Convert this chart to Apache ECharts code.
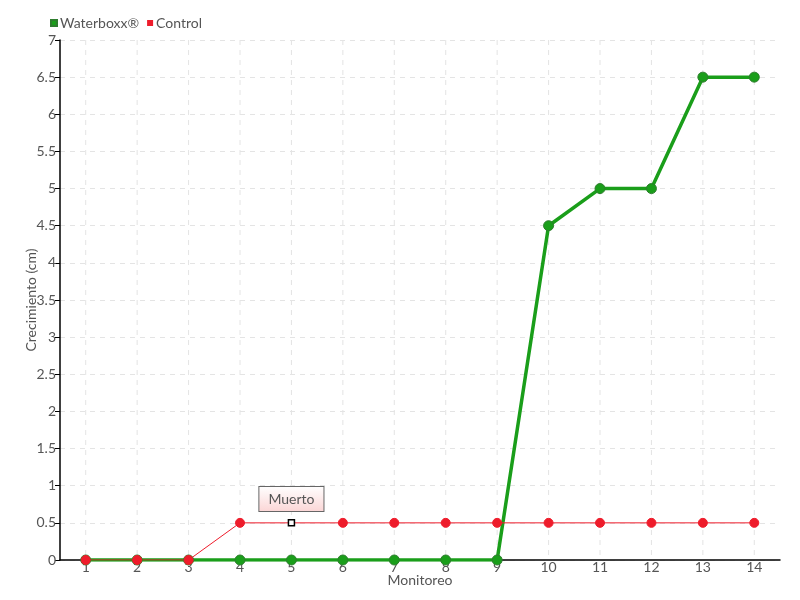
<!DOCTYPE html>
<html><head><meta charset="utf-8">
<script src="https://cdn.jsdelivr.net/npm/echarts@6/dist/echarts.min.js"></script>
<style>html,body{margin:0;padding:0;background:#fff}#c{width:800px;height:600px}</style>
</head><body><div id="c"></div>
<script>
const categories = ['1','2','3','4','5','6','7','8','9','10','11','12','13','14'];
const waterboxx = [0,0,0,0,0,0,0,0,0,4.5,5,5,6.5,6.5];
const control = [0,0,0,0.5,0.5,0.5,0.5,0.5,0.5,0.5,0.5,0.5,0.5,0.5];
const yTicks = [0,0.5,1,1.5,2,2.5,3,3.5,4,4.5,5,5.5,6,6.5,7];
const noteIndex = 4;
const noteText = 'Muerto';

const font = 'Lato, sans-serif';
const txt = '#555';
const chart = echarts.init(document.getElementById('c'));
chart.setOption({
  animation: false,
  textStyle: {fontFamily: font},
  legend: {
    left: 45, top: 11, itemWidth: 6, itemHeight: 6, itemGap: 8,
    icon: 'rect',
    textStyle: {fontFamily: font, fontSize: 14, color: txt, padding: [0,0,0,-2]},
    data: ['Waterboxx®', 'Control']
  },
  grid: {left: 60, right: 20, top: 40, bottom: 40},
  xAxis: {
    type: 'category', data: categories, boundaryGap: true,
    name: 'Monitoreo', nameLocation: 'middle', nameGap: 13, nameMoveOverlap: false,
    nameTextStyle: {fontFamily: font, fontSize: 14, color: txt},
    axisLine: {lineStyle: {color: '#000', width: 1.5}},
    axisTick: {alignWithLabel: true, inside: true, length: 4, lineStyle: {color: '#000'}},
    axisLabel: {fontFamily: font, fontSize: 14, color: txt, margin: 0},
    splitLine: {show: false}
  },
  yAxis: {
    type: 'value', min: 0, max: 7, interval: 0.5,
    name: 'Crecimiento (cm)', nameLocation: 'middle', nameGap: 22, nameMoveOverlap: false,
    nameTextStyle: {fontFamily: font, fontSize: 14, color: txt},
    axisLine: {show: true, lineStyle: {color: '#000', width: 1.5}},
    axisTick: {show: true, length: 5, lineStyle: {color: '#000'}},
    axisLabel: {fontFamily: font, fontSize: 14, color: txt, margin: 4,
      formatter: v => yTicks.indexOf(v) >= 0 ? String(v) : ''},
    splitLine: {show: true, lineStyle: {color: '#e4e4e4', type: [5,5]}}
  },
  series: [
    {
      name: 'Waterboxx®', type: 'line', data: waterboxx,
      color: '#1a9e1a',
      lineStyle: {width: 3.5, color: '#1a9e1a'},
      symbol: 'circle', symbolSize: 10,
      itemStyle: {color: '#1a9e1a', borderColor: '#2e7d2e', borderWidth: 1}
    },
    {
      name: 'Control', type: 'line',
      color: '#ee1c2b',
      data: control.map((v, i) => i === noteIndex ? {
        value: v, symbol: 'rect', symbolSize: 6,
        itemStyle: {color: '#fff', borderColor: '#000', borderWidth: 1.5},
        label: {show: true, position: 'top', distance: 8, formatter: noteText,
          fontFamily: font, fontSize: 14, color: txt,
          backgroundColor: {type: 'linear', x: 0, y: 0, x2: 0, y2: 1,
            colorStops: [{offset: 0, color: '#fff'}, {offset: 1, color: '#fbd5d5'}]},
          borderColor: '#666', borderWidth: 1, padding: [5, 9, 5, 9]}
      } : v),
      lineStyle: {width: 1, color: '#ee1c2b'},
      symbol: 'circle', symbolSize: 9,
      itemStyle: {color: '#ee1c2b', borderColor: '#ee1c2b'}
    }
  ]
});
// vertical dashed gridlines at category centers
const xs = categories.map((c, i) => chart.convertToPixel({xAxisIndex: 0}, i));
const yTop = chart.convertToPixel({yAxisIndex: 0}, 7), yBot = chart.convertToPixel({yAxisIndex: 0}, 0);
chart.setOption({graphic: xs.map(x => ({type: 'line', z: -1, silent: true,
  shape: {x1: x, y1: yTop, x2: x, y2: yBot},
  style: {stroke: '#e4e4e4', lineDash: [5,5], lineWidth: 1}}))});
</script></body></html>
